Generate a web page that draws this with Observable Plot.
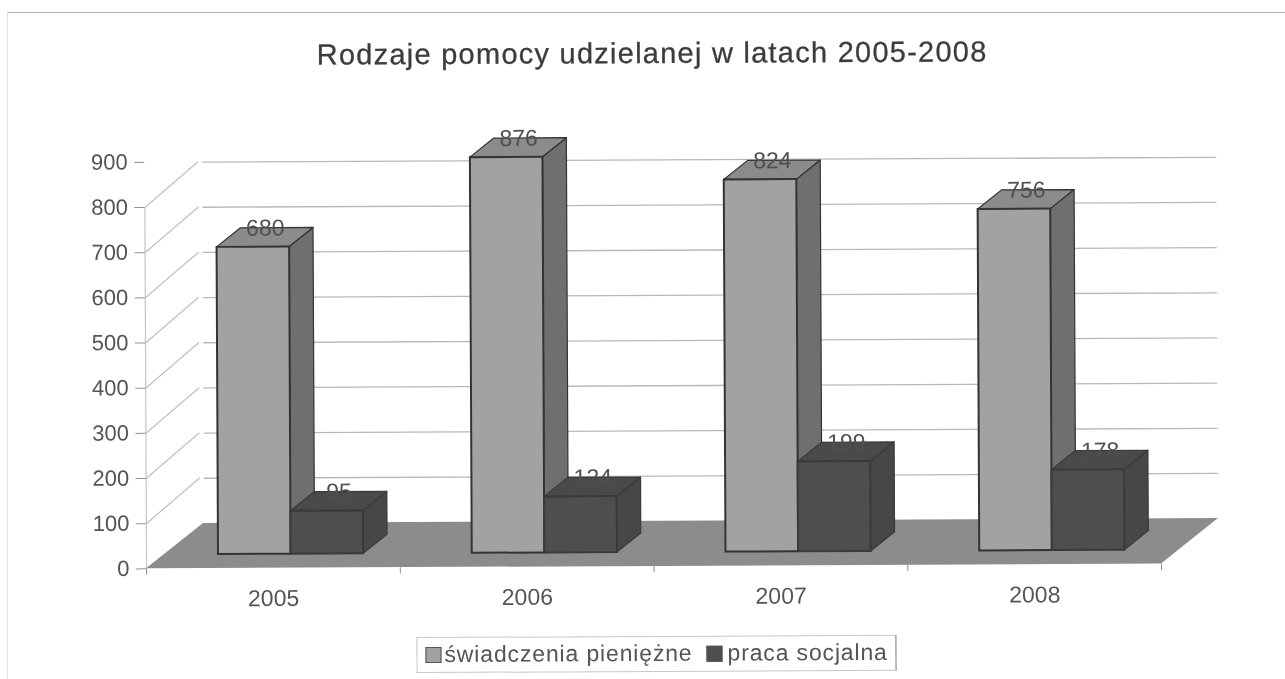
<!DOCTYPE html>
<html lang="pl">
<head>
<meta charset="utf-8">
<script src="https://cdn.jsdelivr.net/npm/d3@7"></script>
<script src="https://cdn.jsdelivr.net/npm/@observablehq/plot@0.6"></script>
<style>
  html, body { margin: 0; padding: 0; background: #fff; overflow: hidden; }
  #page { position: relative; width: 1285px; height: 679px; overflow: hidden; font-family: "Liberation Sans", sans-serif; filter: blur(0.7px); }
  #frame { position: absolute; left: 7px; top: 12px; width: 1300px; height: 700px; border-top: 1px solid #b4b4b4; border-left: 1px solid #e2e2e2; }
  #tilt { position: absolute; inset: 0; transform: rotate(-0.27deg); }
  #tilt svg { position: absolute; left: 0; top: 0; background: transparent; }
  #title { position: absolute; left: 0; width: 1307px; top: 37px; text-align: center; font-size: 29px; letter-spacing: 1.25px; color: #3c3c3c; -webkit-text-stroke: 0.3px #3c3c3c; white-space: nowrap; }
  #legend { position: absolute; left: 415px; top: 636px; width: 480px; height: 36px; box-sizing: border-box; border: 1px solid #c8c8c8; border-right: 1.5px solid #777; color: #555; font-size: 23px; letter-spacing: 0.85px; white-space: nowrap; }
  #legend .sw { position: absolute; top: 9px; width: 16px; height: 16px; box-sizing: border-box; border: 1px solid #555; }
  #legend .lb { position: absolute; top: 3px; }
</style>
</head>
<body>
<div id="page">
  <div id="frame"></div>
  <div id="tilt">
    <div id="title">Rodzaje pomocy udzielanej w latach 2005-2008</div>
    <div id="chart"></div>
    <div id="legend"></div>
  </div>
</div>
<script>
// --- data ---
const years = ["2005", "2006", "2007", "2008"];
const swiadczenia = [680, 876, 824, 756];
const praca = [95, 124, 199, 178];
const seriesNames = ["świadczenia pieniężne", "praca socjalna"];
const yTicks = [0, 100, 200, 300, 400, 500, 600, 700, 800, 900];
const wallLevels = [100, 200, 300, 400, 500, 600, 700, 800];

// --- oblique projection: depth z adds to the x slot and to the value ---
const depthX = 0.225, depthY = 100;
const zFront = 0.31, zBack = 0.73;
const barStart = 0.214, barWidth = 0.286;
const px = (x, z) => x + z * depthX;
const py = (y, z) => y + z * depthY;

const look = [
  { front: "#a2a2a2", side: "#6f6f6f", top: "#8b8b8b", edge: "#333333" },
  { front: "#4e4e4e", side: "#474747", top: "#4a4a4a", edge: "#3a3a3a" }
];

// derived tables
const fronts = [], sides = [], tops = [], labels = [];
[swiadczenia, praca].forEach((vals, s) => {
  vals.forEach((v, i) => {
    const xL = i + barStart + s * barWidth, xR = xL + barWidth;
    const id = `${s}-${i}`;
    fronts.push({ s, i, x1: px(xL, zFront), x2: px(xR, zFront), y1: py(0, zFront), y2: py(v, zFront) });
    for (const z of [zFront, zBack]) {
      sides.push({ id, s, i, x: px(xR, z), y1: py(0, z), y2: py(v, z) });
      tops.push({ id, s, i, y: py(v, z), x1: px(xL, z), x2: px(xR, z) });
    }
    labels.push({ s, i, x: px((xL + xR) / 2, (zFront + zBack) / 2), y: py(v, zBack), text: String(v) });
  });
});
const floor = [
  { y: 0, x1: 0, x2: years.length },
  { y: depthY, x1: depthX, x2: years.length + depthX }
];
const slants = wallLevels.flatMap(v => [
  { v, x: 0, y: v },
  { v, x: depthX * 0.93, y: v + depthY }
]);
const backLines = wallLevels.map(v => ({ y: v + depthY }));

// draw order: each bar's faces, light series before dark
const faces = [];
for (const s of [0, 1]) {
  const st = look[s];
  const on = d => d.s === s;
  faces.push(
    Plot.areaY(sides.filter(on), { x: "x", y1: "y1", y2: "y2", z: "id", fill: st.side, stroke: st.edge, strokeWidth: 1.2 }),
    Plot.areaX(tops.filter(on), { y: "y", x1: "x1", x2: "x2", z: "id", fill: st.top, stroke: st.edge, strokeWidth: 1.2 }),
    Plot.rect(fronts.filter(on), { x1: "x1", x2: "x2", y1: "y1", y2: "y2", fill: st.front, stroke: st.edge, strokeWidth: 2 })
  );
}

const plot = Plot.plot({
  width: 1285,
  height: 679,
  marginLeft: 145,
  marginRight: 125,
  x: { domain: [0, years.length], range: [145, 1160] },
  y: { domain: [0, 900], range: [566, 159.5] },
  style: { background: "transparent", fontFamily: "Liberation Sans, sans-serif" },
  marks: [
    // wall gridlines and their slanted side-wall continuations
    Plot.ruleY(backLines, { y: "y", x1: depthX * 1.02, x2: years.length + depthX, stroke: "#b8b8b8", strokeWidth: 1.3 }),
    Plot.line(slants, { x: "x", y: "y", z: "v", stroke: "#c2c2c2", strokeWidth: 1.3 }),
    Plot.ruleX([0], { y1: 0, y2: 800, stroke: "#c4c4c4", strokeWidth: 1.2 }),
    // floor
    Plot.areaX(floor, { y: "y", x1: "x1", x2: "x2", fill: "#8c8c8c" }),
    // ticks under the floor
    Plot.ruleX(d3.range(years.length + 1), { y1: 0, y2: -14, stroke: "#8f8f8f", strokeWidth: 1 }),
    ...faces,
    Plot.text(labels, { x: "x", y: "y", text: "text", fontSize: 23, fill: "#4f4f4f", textAnchor: "middle" }),
    Plot.axisY({ ticks: yTicks, tickSize: 10, tickPadding: 7, fontSize: 22, color: "#555", stroke: "#8f8f8f", label: null, anchor: "left" }),
    Plot.axisX({ ticks: years.map((_, i) => i + 0.5), tickFormat: (_, i) => years[i], tickSize: 0, tickPadding: 21, fontSize: 23, color: "#555", label: null, anchor: "bottom", y: -1 })
  ]
});
document.getElementById("chart").appendChild(plot);

// legend
const legend = document.getElementById("legend");
const legendSlots = [{ sw: 8, lb: 27 }, { sw: 289, lb: 310 }];
seriesNames.forEach((name, s) => {
  const sw = document.createElement("span");
  sw.className = "sw";
  sw.style.left = legendSlots[s].sw + "px";
  sw.style.background = look[s].front;
  const lb = document.createElement("span");
  lb.className = "lb";
  lb.style.left = legendSlots[s].lb + "px";
  lb.textContent = name;
  legend.append(sw, lb);
});
</script>
</body>
</html>
